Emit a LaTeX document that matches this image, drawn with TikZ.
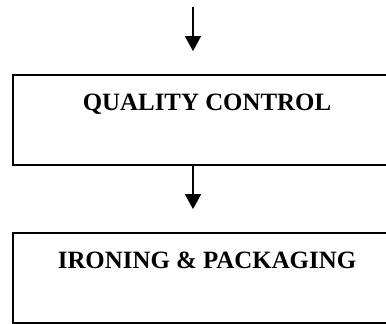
\documentclass[tikz,border=0pt]{standalone}
\usepackage{fontspec}
\setmainfont{Liberation Serif}
\usetikzlibrary{arrows.meta}
\tikzset{
  procbox/.style={draw, line width=1.8pt, rectangle, inner xsep=0pt, inner ysep=0pt,
    minimum width=388pt, text height=35pt, text depth=55pt,
    font=\fontsize{24.9}{30}\selectfont\bfseries},
  flow/.style={line width=1.5pt, -{Triangle[width=16pt,length=15pt]}, shorten >=23pt}
}
\begin{document}
\begin{tikzpicture}[x=1pt,y=1pt]
\useasboundingbox (0,0) rectangle (386,-324);
\clip (0,0) rectangle (386,-324);
\node[procbox] (qc) at (207,-120) {QUALITY CONTROL};
\node[procbox] (ip) at (207,-278) {IRONING \& PACKAGING};
\coordinate (start) at (193,-7);
\draw[flow] (start) -- (start |- qc.north);
\draw[flow] (qc.south -| start) -- (ip.north -| start);
\end{tikzpicture}
\end{document}
